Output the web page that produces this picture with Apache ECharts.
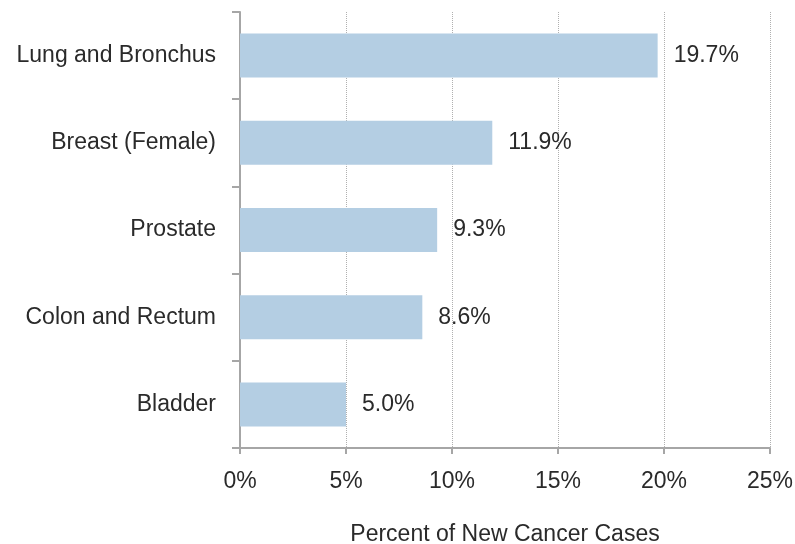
<!DOCTYPE html>
<html>
<head>
<meta charset="utf-8">
<script src="https://cdn.jsdelivr.net/npm/echarts@6/dist/echarts.min.js"></script>
<style>
  html, body { margin: 0; padding: 0; background: #fff; }
  #chart1 { width: 795px; height: 544px; }
</style>
</head>
<body>
<div id="chart1"></div>
<script>
var sites = ['Lung and Bronchus', 'Breast (Female)', 'Prostate', 'Colon and Rectum', 'Bladder'];
var percentNew = [19.7, 11.9, 9.3, 8.6, 5.0];

var chartDom = document.getElementById('chart1');
var myChart = echarts.init(chartDom);
var font = 'Liberation Sans';
var txtColor = '#2a2a2a';
var option;

option = {
  animation: false,
  grid: {
    left: 240, right: 25, top: 12, bottom: 96,
    containLabel: false,
    outerBoundsMode: 'none'
  },
  xAxis: {
    type: 'value',
    min: 0,
    max: 25,
    interval: 5,
    name: 'Percent of New Cancer Cases',
    nameLocation: 'middle',
    nameGap: 75,
    nameTextStyle: { fontFamily: font, fontSize: 23, color: txtColor },
    axisLine: { show: true, lineStyle: { color: '#a6a6a6', width: 2 } },
    axisTick: { show: true, length: 6, lineStyle: { color: '#a6a6a6', width: 2 } },
    axisLabel: {
      formatter: '{value}%',
      margin: 22,
      fontFamily: font,
      fontSize: 23,
      color: txtColor
    },
    splitLine: { show: true, lineStyle: { color: '#b0b0b0', type: 'dotted', width: 1 } }
  },
  yAxis: {
    type: 'category',
    inverse: true,
    data: sites,
    axisLine: { show: true, lineStyle: { color: '#a6a6a6', width: 2 } },
    axisTick: { show: true, length: 8, lineStyle: { color: '#a6a6a6', width: 2 } },
    axisLabel: { margin: 24, fontFamily: font, fontSize: 23, color: txtColor }
  },
  series: [
    {
      type: 'bar',
      data: percentNew,
      barWidth: 44,
      itemStyle: { color: '#b4cee3' },
      label: {
        show: true,
        position: 'right',
        distance: 16,
        formatter: function (p) { return p.value.toFixed(1) + '%'; },
        fontFamily: font,
        fontSize: 23,
        color: txtColor
      }
    }
  ]
};

option && myChart.setOption(option);
window.onresize = function() {
  myChart.resize();
};
</script>
</body>
</html>
